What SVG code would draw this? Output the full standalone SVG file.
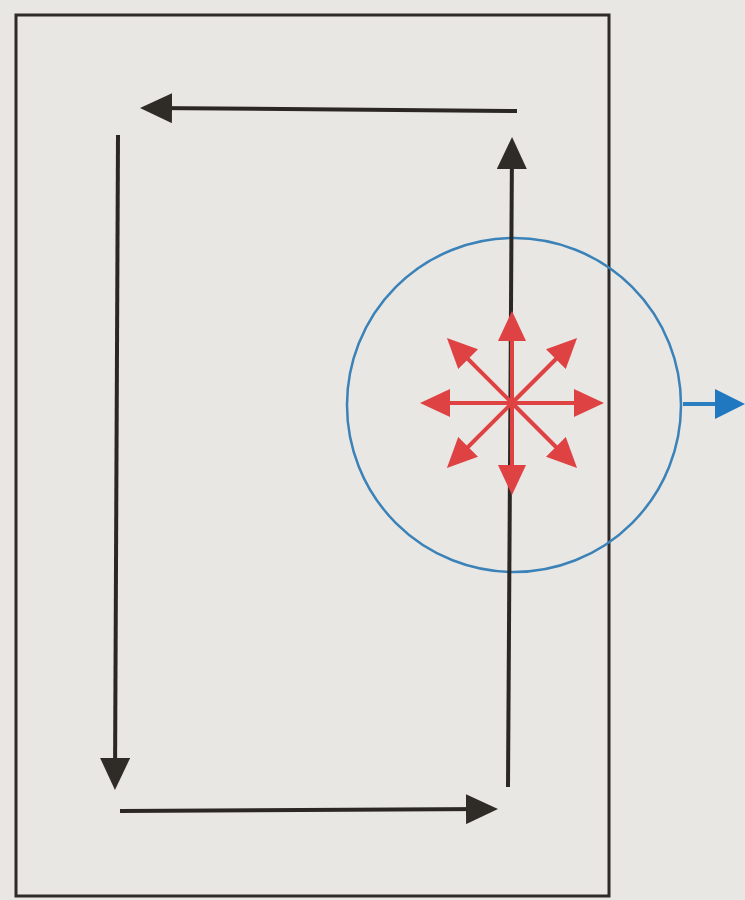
<svg xmlns="http://www.w3.org/2000/svg" width="745" height="900" viewBox="0 0 745 900">
<style>
.blk{stroke:#2b2724;stroke-width:4;fill:none}
.red{stroke:#df4243;stroke-width:4;fill:none}
.blu{stroke:#2b7fc0;stroke-width:4;fill:none}
</style>
<defs>
<marker id="mb" markerUnits="userSpaceOnUse" markerWidth="32" markerHeight="30" refX="22" refY="15" orient="auto"><path d="M0,0 L32,15 L0,30 z" fill="#2f2b27"/></marker>
<marker id="mr" markerUnits="userSpaceOnUse" markerWidth="30" markerHeight="28" refX="20" refY="14" orient="auto"><path d="M0,0 L30,14 L0,28 z" fill="#df4243"/></marker>
<marker id="mu" markerUnits="userSpaceOnUse" markerWidth="30" markerHeight="30" refX="20" refY="15" orient="auto"><path d="M0,0 L30,15 L0,30 z" fill="#1f78c0"/></marker>
</defs>
<rect width="745" height="900" fill="#e9e7e4"/>
<g id="frame"><rect x="16" y="15" width="593" height="881" fill="none" stroke="#2e2a27" stroke-width="3"/></g>
<g id="circle"><circle cx="514" cy="405" r="167" fill="none" stroke="#3a82b8" stroke-width="2.5"/></g>
<g id="connectors">
<line class="blk" x1="517" y1="111" x2="150" y2="108" marker-end="url(#mb)"/>
<line class="blk" x1="118" y1="135" x2="115" y2="780" marker-end="url(#mb)"/>
<line class="blk" x1="120" y1="811" x2="488" y2="809" marker-end="url(#mb)"/>
<line class="blk" x1="508" y1="787" x2="512" y2="147" marker-end="url(#mb)"/>
<line class="blu" x1="683" y1="404" x2="735" y2="404" marker-end="url(#mu)"/>
<g id="star">
<line class="red" x1="512" y1="403" x2="594" y2="403" marker-end="url(#mr)"/>
<line class="red" x1="512" y1="403" x2="430" y2="403" marker-end="url(#mr)"/>
<line class="red" x1="512" y1="403" x2="512" y2="321" marker-end="url(#mr)"/>
<line class="red" x1="512" y1="403" x2="512" y2="485" marker-end="url(#mr)"/>
<line class="red" x1="512" y1="403" x2="570" y2="345" marker-end="url(#mr)"/>
<line class="red" x1="512" y1="403" x2="454" y2="345" marker-end="url(#mr)"/>
<line class="red" x1="512" y1="403" x2="570" y2="461" marker-end="url(#mr)"/>
<line class="red" x1="512" y1="403" x2="454" y2="461" marker-end="url(#mr)"/>
</g>
</g>
</svg>
